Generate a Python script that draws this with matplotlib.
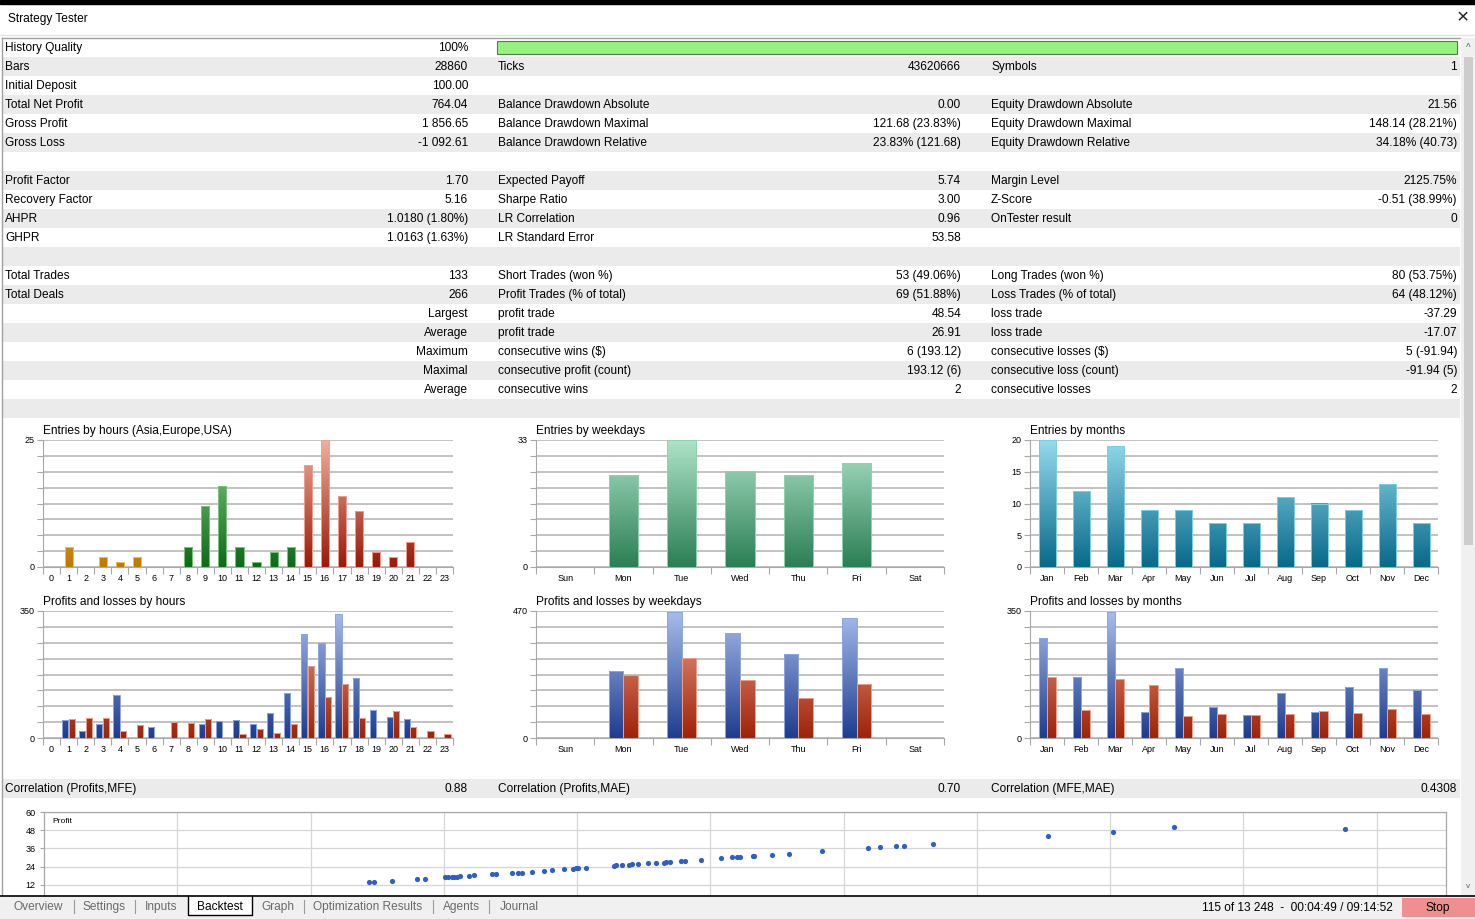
import numpy as np
import matplotlib.pyplot as plt
from matplotlib.colors import LinearSegmentedColormap
from matplotlib.patches import Rectangle

plt.rcParams['font.family'] = ['Liberation Sans', 'DejaVu Sans']

W, H = 1475, 919

# ---- chart data ----
hours = [str(h) for h in range(24)]
hour_session = ['asia'] * 8 + ['europe'] * 7 + ['usa'] * 9
hour_entries = [0, 4, 0, 2, 1, 2, 0, 0, 4, 12, 16, 4, 1, 3, 4, 20, 25, 14, 11, 3, 2, 5, 0, 0]
hour_profit = [0, 48.8, 19.3, 38.7, 119.7, 0, 31.3, 0, 0, 37.8, 47.9, 49.7, 38.7, 69.0,
               125.3, 285.5, 261.6, 342.6, 164.0, 77.4, 57.1, 53.4, 0, 0]
hour_loss = [0, 52.5, 55.3, 55.3, 20.3, 36.8, 0, 43.3, 42.4, 53.4, 0, 11.0, 24.0, 13.8,
             39.6, 198.0, 113.3, 149.2, 55.3, 0, 75.5, 30.4, 19.3, 12.0]

weekdays = ['Sun', 'Mon', 'Tue', 'Wed', 'Thu', 'Fri', 'Sat']
day_entries = [0, 24, 33, 25, 24, 27, 0]
day_profit = [0, 247.0, 466.0, 388.0, 312.0, 443.65, 0]
day_loss = [0, 234.0, 297.0, 213.0, 147.0, 201.61, 0]

months = ['Jan', 'Feb', 'Mar', 'Apr', 'May', 'Jun', 'Jul', 'Aug', 'Sep', 'Oct', 'Nov', 'Dec']
month_entries = [20, 12, 19, 9, 9, 7, 7, 11, 10, 9, 13, 7]
month_profit = [275.6, 169.0, 346.3, 70.7, 193.8, 84.5, 62.5, 125.0, 70.7, 140.5, 193.8, 131.4]
month_loss = [169.0, 77.0, 161.7, 145.0, 59.7, 66.0, 63.4, 66.0, 74.4, 68.0, 80.8, 65.2]

mfe = [24.35, 24.77, 26.12, 28.0, 28.6, 30.08, 30.33, 30.58, 30.76, 30.97, 31.25, 31.9,
       32.3, 33.6, 33.95, 35.15, 35.6, 35.85, 36.6, 37.5, 38.1, 39.0, 39.7, 39.9, 40.1,
       40.7, 42.8, 42.9, 43.4, 43.9, 44.1, 44.6, 45.3, 45.9, 46.5, 46.7, 47.0, 47.8, 48.1,
       49.3, 50.8, 51.6, 52.0, 52.2, 53.2, 53.3, 54.6, 55.9, 58.4, 61.8, 62.7, 63.9, 64.5,
       66.7, 75.3, 80.2, 84.8, 97.6]
trade_profit = [13.6, 13.6, 14.5, 15.8, 16.0, 16.9, 17.1, 17.3, 17.3, 17.3, 17.6, 18.0,
                18.2, 19.1, 19.1, 19.7, 19.9, 19.9, 20.6, 21.0, 21.5, 22.2, 22.6, 22.8, 22.8,
                23.2, 24.5, 24.8, 25.0, 25.2, 25.5, 25.7, 26.1, 26.3, 26.5, 26.8, 27.0, 27.6,
                27.8, 28.5, 29.6, 30.1, 30.3, 30.3, 30.9, 30.9, 31.6, 32.4, 34.0, 36.2, 36.8,
                37.5, 37.7, 39.0, 44.0, 47.0, 49.9, 49.1]

# ---- report table text ----
stats_rows = [
    ("History Quality", "100%", "", "", "", ""),
    ("Bars", "28860", "Ticks", "43620666", "Symbols", "1"),
    ("Initial Deposit", "100.00", "", "", "", ""),
    ("Total Net Profit", "764.04", "Balance Drawdown Absolute", "0.00", "Equity Drawdown Absolute", "21.56"),
    ("Gross Profit", "1 856.65", "Balance Drawdown Maximal", "121.68 (23.83%)", "Equity Drawdown Maximal", "148.14 (28.21%)"),
    ("Gross Loss", "-1 092.61", "Balance Drawdown Relative", "23.83% (121.68)", "Equity Drawdown Relative", "34.18% (40.73)"),
    ("", "", "", "", "", ""),
    ("Profit Factor", "1.70", "Expected Payoff", "5.74", "Margin Level", "2125.75%"),
    ("Recovery Factor", "5.16", "Sharpe Ratio", "3.00", "Z-Score", "-0.51 (38.99%)"),
    ("AHPR", "1.0180 (1.80%)", "LR Correlation", "0.96", "OnTester result", "0"),
    ("GHPR", "1.0163 (1.63%)", "LR Standard Error", "53.58", "", ""),
    ("", "", "", "", "", ""),
    ("Total Trades", "133", "Short Trades (won %)", "53 (49.06%)", "Long Trades (won %)", "80 (53.75%)"),
    ("Total Deals", "266", "Profit Trades (% of total)", "69 (51.88%)", "Loss Trades (% of total)", "64 (48.12%)"),
    ("", "Largest", "profit trade", "48.54", "loss trade", "-37.29"),
    ("", "Average", "profit trade", "26.91", "loss trade", "-17.07"),
    ("", "Maximum", "consecutive wins (\\$)", "6 (193.12)", "consecutive losses (\\$)", "5 (-91.94)"),
    ("", "Maximal", "consecutive profit (count)", "193.12 (6)", "consecutive loss (count)", "-91.94 (5)"),
    ("", "Average", "consecutive wins", "2", "consecutive losses", "2"),
    ("", "", "", "", "", ""),
]
corr_row = ("Correlation (Profits,MFE)", "0.88", "Correlation (Profits,MAE)", "0.70",
            "Correlation (MFE,MAE)", "0.4308")

FS = 8.6
GRAY_ROW = '#ebebeb'

fig = plt.figure(figsize=(W / 100, H / 100), dpi=100)
fig.patch.set_facecolor('white')


def px_axes(x0, y0, x1, y1, z=1):
    return fig.add_axes([x0 / W, 1 - y1 / H, (x1 - x0) / W, (y1 - y0) / H], zorder=z)


# background canvas in pixel coordinates
bg = px_axes(0, 0, W, H, z=0)
bg.set_xlim(0, W)
bg.set_ylim(H, 0)
bg.axis('off')

bg.add_patch(Rectangle((0, 0), W, 4, color='black'))
bg.text(8, 19, "Strategy Tester", fontsize=FS, va='center')
bg.text(1463, 18, "\u00d7", fontsize=15, va='center', ha='center', color='#222222')
bg.plot([0, W], [35, 35], color='#e3e3e3', lw=1)
bg.plot([2, 1460], [38, 38], color='#a0a0a0', lw=1)
bg.plot([2, 2], [38, 896], color='#a0a0a0', lw=1)

cols = [(5, 468), (498, 961), (991, 1457)]
for i, row in enumerate(stats_rows):
    yc = 47 + 19 * i
    if i % 2 == 1:
        bg.add_patch(Rectangle((3, yc - 9.5), 1457, 19, color=GRAY_ROW, lw=0))
    for k, (xl, xr) in enumerate(cols):
        lab, val = row[2 * k], row[2 * k + 1]
        if lab:
            bg.text(xl, yc + 1, lab, fontsize=FS, va='center', ha='left')
        if val:
            bg.text(xr, yc + 1, val, fontsize=FS, va='center', ha='right')

# history quality bar
bg.add_patch(Rectangle((497, 41), 960, 13, facecolor='#95f27f', edgecolor='#4f7f46', lw=0.8))

# correlation row
bg.add_patch(Rectangle((3, 779), 1457, 19, color=GRAY_ROW, lw=0))
for k, (xl, xr) in enumerate(cols):
    bg.text(xl, 789, corr_row[2 * k], fontsize=FS, va='center', ha='left')
    bg.text(xr, 789, corr_row[2 * k + 1], fontsize=FS, va='center', ha='right')


def grad_bars(ax, bars, bottom, top, ymax, edge):
    cmap = LinearSegmentedColormap.from_list('g', [bottom, top])
    grad = np.linspace(0, 1, 256).reshape(-1, 1)
    for b in bars:
        if b.get_height() <= 0:
            b.set_visible(False)
            continue
        b.set_facecolor('none')
        b.set_edgecolor(edge)
        b.set_linewidth(0.7)
        b.set_zorder(3)
        x, w = b.get_x(), b.get_width()
        im = ax.imshow(grad, cmap=cmap, origin='lower', aspect='auto',
                       extent=(x, x + w, 0, ymax), zorder=2, interpolation='bilinear')
        im.set_clip_path(b)


def style_chart(ax, title, labels, ymax, ylabels):
    n = len(labels)
    ax.set_xlim(-0.5, n - 0.5)
    ax.set_ylim(0, ymax)
    ax.set_yticks(np.linspace(0, ymax, 9))
    ax.set_yticklabels(ylabels)
    ax.yaxis.grid(True, color='#bdbdbd', lw=1.3)
    ax.set_axisbelow(True)
    for s in ['top', 'right']:
        ax.spines[s].set_visible(False)
    for s in ['left', 'bottom']:
        ax.spines[s].set_color('#a8a8a8')
        ax.spines[s].set_linewidth(0.8)
    ax.tick_params(axis='y', length=4, width=0.8, color='#a8a8a8', labelsize=6.5, pad=2)
    ax.set_xticks(range(n))
    ax.set_xticklabels(labels)
    ax.set_xticks(np.arange(-0.5, n, 1.0), minor=True)
    ax.tick_params(axis='x', which='major', length=0, labelsize=6.5, pad=5)
    ax.tick_params(axis='x', which='minor', length=5, width=0.8, color='#a8a8a8')
    ax.set_title(title, loc='left', fontsize=FS, pad=4.6)


def end_labels(top):
    return ['0'] + [''] * 7 + [top]


BLUE = ('#1d3c8e', '#a9bdec', '#8ea6e0')
RED = ('#9e2208', '#eda48c', '#ee9f88')

# --- entries by hours ---
ax = px_axes(43, 440, 453, 567)
hb = ax.bar(range(24), hour_entries, width=0.48)
session_colors = {'asia': ('#c27800', '#ffd27a', '#f2c060'),
                  'europe': ('#0b6a18', '#8ed08e', '#7cc47c'),
                  'usa': ('#9a1806', '#f0b0a0', '#eea090')}
for b, s in zip(hb, hour_session):
    c = session_colors[s]
    grad_bars(ax, [b], c[0], c[1], 25, c[2])
style_chart(ax, "Entries by hours (Asia,Europe,USA)", hours, 25, end_labels('25'))

# --- profits and losses by hours ---
ax = px_axes(43, 611, 453, 738)
x = np.arange(24)
grad_bars(ax, ax.bar(x - 0.2, hour_profit, width=0.36), BLUE[0], BLUE[1], 350, BLUE[2])
grad_bars(ax, ax.bar(x + 0.18, hour_loss, width=0.36), RED[0], RED[1], 350, RED[2])
style_chart(ax, "Profits and losses by hours", hours, 350, end_labels('350'))

# --- entries by weekdays ---
ax = px_axes(536, 440, 944, 567)
grad_bars(ax, ax.bar(range(7), day_entries, width=0.5), '#2a7e54', '#aee3c8', 33, '#8fd3b0')
style_chart(ax, "Entries by weekdays", weekdays, 33, end_labels('33'))

# --- profits and losses by weekdays ---
ax = px_axes(536, 611, 944, 738)
x = np.arange(7)
grad_bars(ax, ax.bar(x - 0.125, day_profit, width=0.25), BLUE[0], BLUE[1], 470, BLUE[2])
grad_bars(ax, ax.bar(x + 0.125, day_loss, width=0.25), RED[0], RED[1], 470, RED[2])
style_chart(ax, "Profits and losses by weekdays", weekdays, 470, end_labels('470'))

# --- entries by months ---
ax = px_axes(1030, 440, 1438, 567)
grad_bars(ax, ax.bar(range(12), month_entries, width=0.5), '#07698a', '#95dbec', 20, '#7ccde2')
style_chart(ax, "Entries by months", months, 20,
            ['0', '', '5', '', '10', '', '15', '', '20'])

# --- profits and losses by months ---
ax = px_axes(1030, 611, 1438, 738)
x = np.arange(12)
grad_bars(ax, ax.bar(x - 0.125, month_profit, width=0.25), BLUE[0], BLUE[1], 350, BLUE[2])
grad_bars(ax, ax.bar(x + 0.125, month_loss, width=0.25), RED[0], RED[1], 350, RED[2])
style_chart(ax, "Profits and losses by months", months, 350, end_labels('350'))

# --- profit vs MFE scatter ---
sx = px_axes(44, 812, 1446, 903)
sx.scatter(mfe, trade_profit, s=14, color='#2f5ec4', linewidths=0, zorder=3)
sx.set_xlim(0, 105.2)
sx.set_ylim(0, 60)
sx.set_yticks([12, 24, 36, 48, 60])
sx.set_xticks(np.arange(10, 105, 10))
sx.set_xticklabels([])
sx.grid(True, color='#d6d6d6', lw=0.9)
sx.set_axisbelow(True)
for s in sx.spines.values():
    s.set_color('#a8a8a8')
    s.set_linewidth(0.9)
sx.tick_params(axis='y', length=3, color='#a8a8a8', labelsize=6.5, pad=3)
sx.tick_params(axis='x', length=0)
sx.text(0.006, 0.9, "Profit", transform=sx.transAxes, fontsize=6, va='center')

# ---- overlay: scrollbar, tab bar, status ----
ov = px_axes(0, 0, W, H, z=10)
ov.set_xlim(0, W)
ov.set_ylim(H, 0)
ov.axis('off')
ov.patch.set_alpha(0)

ov.add_patch(Rectangle((1461, 38), 14, 858, color='#f0f0f0', lw=0))
ov.add_patch(Rectangle((1463.5, 57), 9, 488, color='#cdcdcd', lw=0))
ov.text(1468, 48, "^", fontsize=7, ha='center', va='center', color='#606060')
ov.text(1468, 886, "v", fontsize=6, ha='center', va='center', color='#606060')

ov.add_patch(Rectangle((0, 896), W, 23, color='#f0f0f0', lw=0))
ov.plot([0, W], [896, 896], color='black', lw=1.2)
ov.add_patch(Rectangle((188, 896), 63.5, 19, facecolor='white', edgecolor='none'))
ov.plot([188, 188, 251.5, 251.5], [896, 915, 915, 896], color='black', lw=1)

tabs = [("Overview", 38), ("Settings", 104), ("Inputs", 161), ("Backtest", 220),
        ("Graph", 278), ("Optimization Results", 368), ("Agents", 461), ("Journal", 519)]
for name, xc in tabs:
    ov.text(xc, 907, name, fontsize=FS, ha='center', va='center',
            color='black' if name == "Backtest" else '#6a6a6a')
for xs in [74, 135, 304, 433, 489]:
    ov.plot([xs, xs], [900, 913], color='#9a9a9a', lw=0.8)

ov.text(1393, 908, "115 of 13 248  -  00:04:49 / 09:14:52", fontsize=FS, ha='right', va='center')
ov.add_patch(Rectangle((1402, 898), 73, 19, color='#ef8f8f', lw=0))
ov.text(1438, 908, "Stop", fontsize=FS, ha='center', va='center')

fig.savefig("out.png", dpi=100)
plt.close(fig)
